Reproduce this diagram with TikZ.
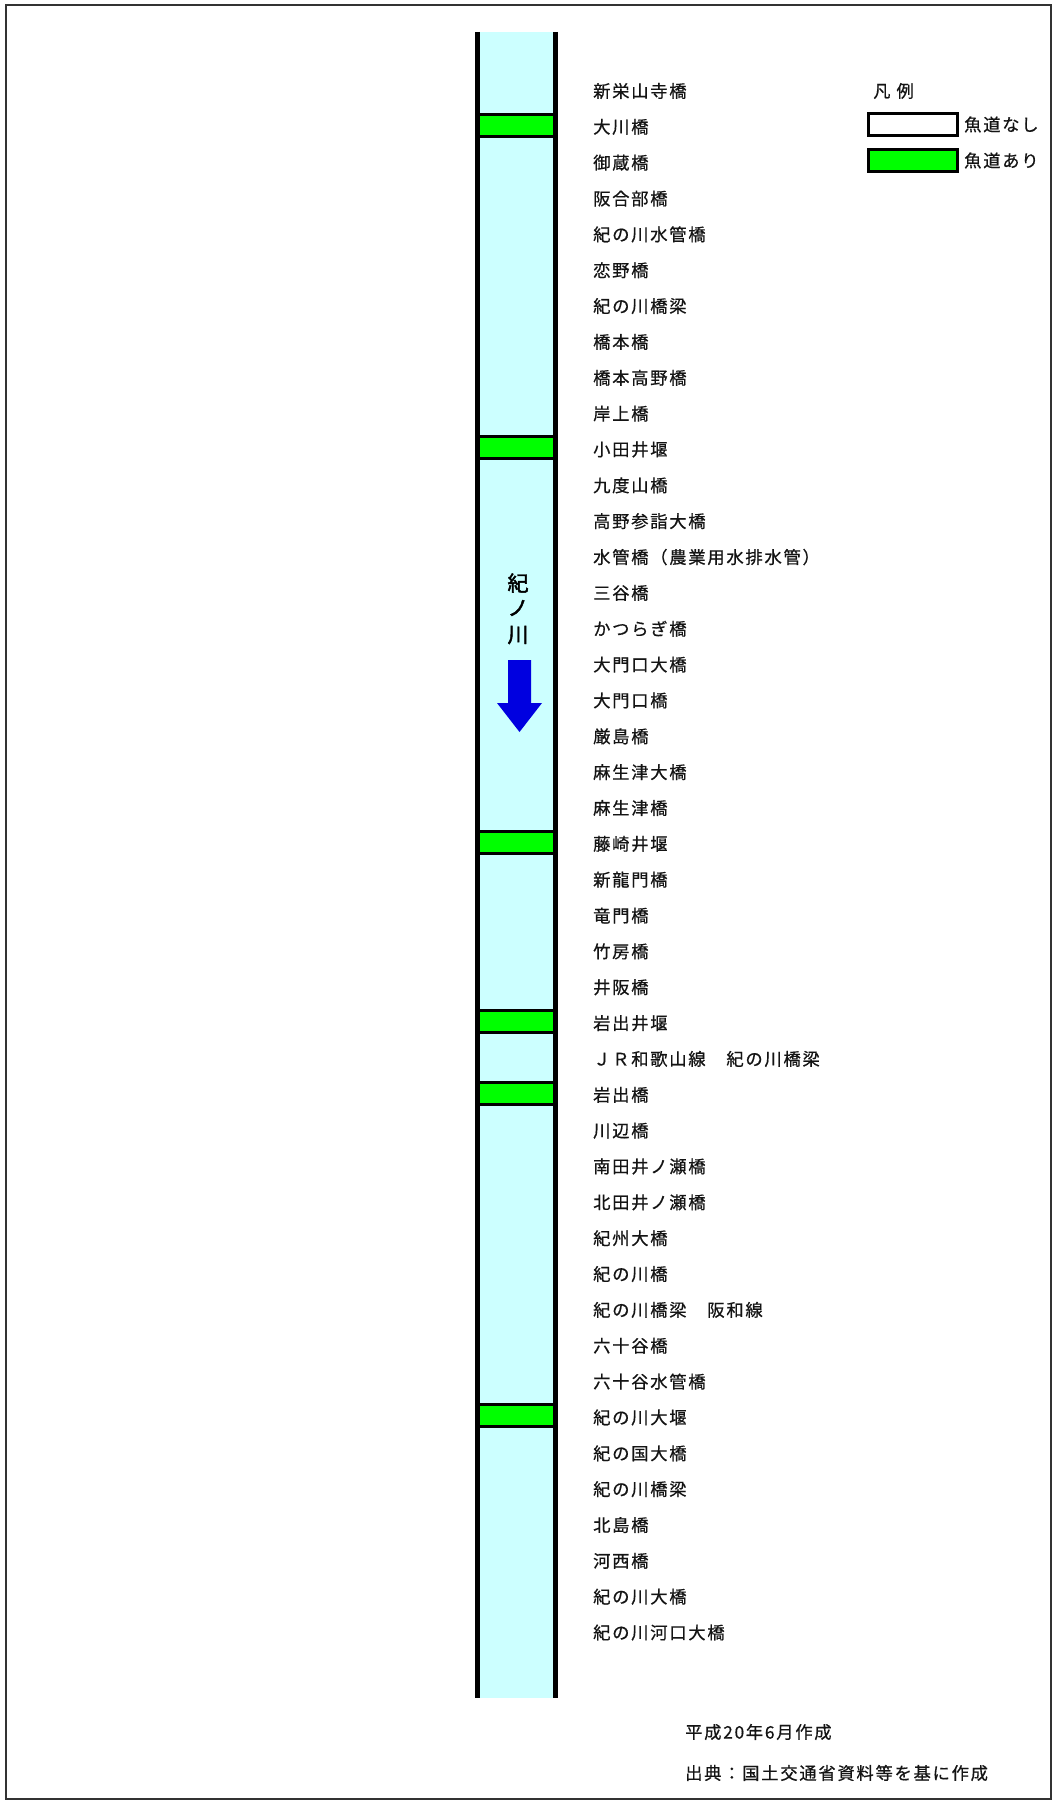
\documentclass[tikz,border=0pt]{standalone}
\usepackage{fontspec}
\newfontfamily\jp[LetterSpace=10,FakeBold=0.6]{Noto Sans CJK JP}
\newfontfamily\jpb[FakeBold=2]{Noto Sans CJK JP}
\definecolor{rivercol}{RGB}{204,255,255}
\definecolor{fishgreen}{RGB}{0,255,0}
\definecolor{arrowblue}{RGB}{0,0,224}
\definecolor{txt}{RGB}{20,20,20}
\tikzset{
  lbl/.style={anchor=west, inner sep=0pt, text=txt, font=\jp\fontsize{17.3}{17.3}\selectfont},
  band/.style={draw=black, fill=fishgreen, line width=3pt, minimum width=78pt, minimum height=22pt, inner sep=0pt},
  legbox/.style={draw=black, line width=3pt, minimum width=89pt, minimum height=22pt, inner sep=0pt},
  bank/.style={line width=5pt, black},
  vtxt/.style={inner sep=0pt, text=black, font=\jpb\fontsize{21}{21}\selectfont}
}
\begin{document}
\begin{tikzpicture}[x=1pt,y=-1pt]
\useasboundingbox (0,0) rectangle (1054,1801);
\fill[white] (0,0) rectangle (1054,1801);
\draw[line width=2pt, black!80] (6,5) rectangle (1051,1799);
% river
\fill[rivercol] (477.5,32) rectangle (555.5,1698);
\foreach \yy/\nm in {125/b2, 447.5/b11, 842/b22, 1021/b27, 1093/b29, 1415.5/b38}
  \node[band] (\nm) at (516.5,\yy) {};
\coordinate (lt) at (477.5,32); \coordinate (lb) at (477.5,1698);
\coordinate (rt) at (555.5,32); \coordinate (rb) at (555.5,1698);
\draw[bank] (lt) -- (lb);
\draw[bank] (rt) -- (rb);
% river name and flow arrow
\node[vtxt] (k1) at (518,583) {紀};
\node[vtxt] (k2) at (518,608) {ノ};
\node[vtxt] (k3) at (518,635) {川};
\fill[arrowblue] (508,660) -- (531,660) -- (531,703) -- (542,703) -- (519.5,732) -- (497,703) -- (508,703) -- cycle;
% bridge list
\foreach \name [count=\i] in {新栄山寺橋,大川橋,御蔵橋,阪合部橋,紀の川水管橋,恋野橋,紀の川橋梁,橋本橋,橋本高野橋,岸上橋,小田井堰,九度山橋,高野参詣大橋,水管橋（農業用水排水管）,三谷橋,かつらぎ橋,大門口大橋,大門口橋,厳島橋,麻生津大橋,麻生津橋,藤崎井堰,新龍門橋,竜門橋,竹房橋,井阪橋,岩出井堰,ＪＲ和歌山線　紀の川橋梁,岩出橋,川辺橋,南田井ノ瀬橋,北田井ノ瀬橋,紀州大橋,紀の川橋,紀の川橋梁　阪和線,六十谷橋,六十谷水管橋,紀の川大堰,紀の国大橋,紀の川橋梁,北島橋,河西橋,紀の川大橋,紀の川河口大橋}
  \node[lbl] (t\i) at (593,{91+(\i-1)*35.85}) {\name};
% legend
\node[lbl] (lgt) at (873,91) {凡\hspace{6pt}例};
\node[legbox, fill=white] (lw) at (913,124.5) {};
\node[legbox, fill=fishgreen] (lg) at (913,160.5) {};
\node[lbl] (lwt) at (964,124.5) {魚道なし};
\node[lbl] (lgtx) at (964,160.5) {魚道あり};
% footer
\node[lbl] (f1) at (685,1732) {平成20年6月作成};
\node[lbl] (f2) at (685,1773) {出典：国土交通省資料等を基に作成};
\end{tikzpicture}
\end{document}
